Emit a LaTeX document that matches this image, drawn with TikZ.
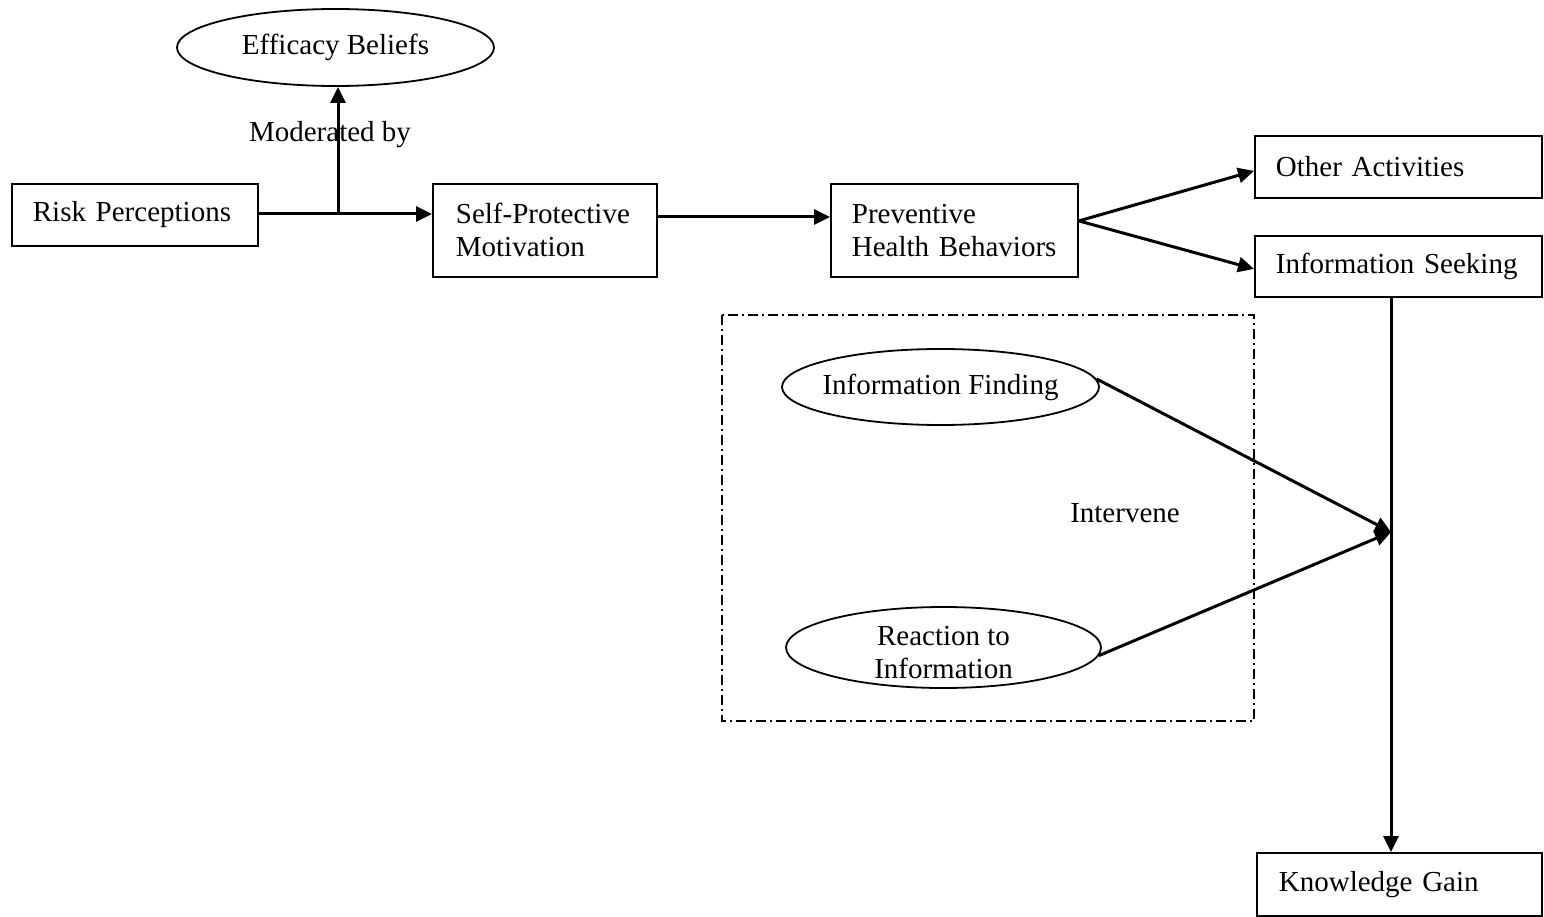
\documentclass[tikz,border=0pt]{standalone}
\usepackage{fontspec}
\setmainfont{Liberation Serif}
\usetikzlibrary{shapes.geometric,arrows.meta}
\tikzset{
  boxn/.style={draw, line width=1.8pt, rectangle, align=left, inner xsep=21pt, inner ysep=0pt, anchor=north west, font=\fontsize{29}{33}\selectfont},
  ell/.style={draw, line width=1.8pt, ellipse, inner sep=0pt, align=center, font=\fontsize{29}{33}\selectfont},
  lbl/.style={font=\fontsize{29}{33}\selectfont, inner sep=0pt},
  conn/.style={line width=3pt},
  arr/.style={conn, -{Triangle[length=16pt,width=15pt]}},
  dashdotbox/.style={line width=1.6pt, dash pattern=on 10pt off 4pt on 2pt off 4pt}
}
\begin{document}
\begin{tikzpicture}[x=1pt,y=-1pt]
\useasboundingbox (0,0) rectangle (1544,917);
% nodes
\node[boxn, text width=204pt, minimum height=62pt] (risk) at (11,183) {Risk Perceptions};
\node[boxn, inner xsep=23pt, text width=178pt, minimum height=93pt] (self) at (432,183) {Self-Protective\\Motivation};
\node[boxn, text width=205pt, minimum height=93pt] (prev) at (830,183) {Preventive\\Health Behaviors};
\node[boxn, text width=245pt, minimum height=62pt] (other) at (1254,135) {Other Activities};
\node[boxn, text width=245pt, minimum height=61pt] (seek) at (1254,235) {Information Seeking};
\node[boxn, inner xsep=22pt, text width=241pt, minimum height=63pt] (kg) at (1256,852) {Knowledge Gain};
\node[ell, minimum width=317pt, minimum height=77pt] (eff) at (335.5,47.5) {Efficacy Beliefs};
\node[ell, inner xsep=-8pt, minimum width=317pt, minimum height=76pt] (find) at (940.5,387) {Information Finding};
\node[ell, inner ysep=-6pt, minimum width=315pt, minimum height=81pt] (react) at (943.5,647.5) {\rule{0pt}{30pt}Reaction to\\Information};
\node[lbl] (mod) at (330,135) {Moderated by};
\node[lbl] (interv) at (1125,513) {Intervene};
\draw[dashdotbox] (722,315) rectangle (1254,721);
% junction points
\coordinate (j) at (1391,532);
\coordinate (m) at (338,214);
% connectors
\draw[arr] (risk.east |- m) -- (self.west |- m);
\draw[arr] (m) -- (m |- eff.south);
\draw[arr] (self.east |- 0,217) -- (prev.west |- 0,217);
\draw[arr] ([yshift=9.5pt]prev.east) -- ([yshift=-4pt]other.west);
\draw[arr] ([yshift=9.5pt]prev.east) -- ([yshift=-2.5pt]seek.west);
\draw[arr] (j |- seek.south) -- (j |- kg.north);
\draw[arr] (find.3) -- (j);
\draw[arr] (react.-3.5) -- (j);
\end{tikzpicture}
\end{document}
